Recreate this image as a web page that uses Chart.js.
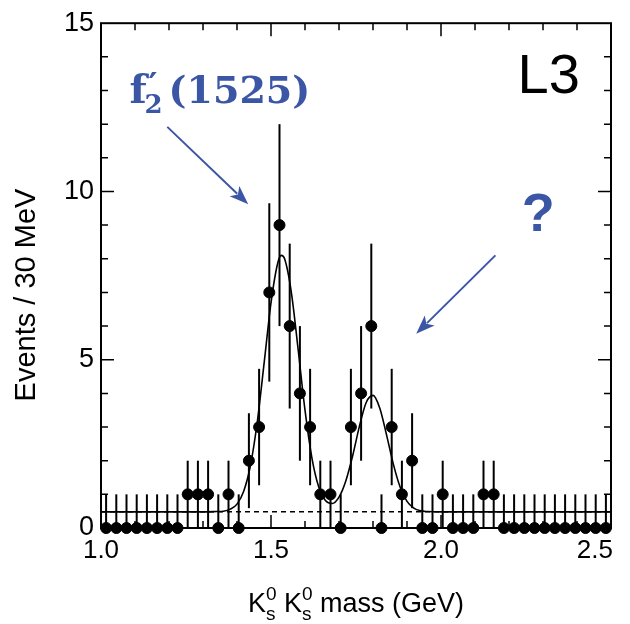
<!DOCTYPE html>
<html>
<head>
<meta charset="utf-8">
<script src="https://cdn.jsdelivr.net/npm/chart.js@4"></script>
<style>
  body { margin: 0; background: #fff; }
</style>
</head>
<body>
<canvas id="chart" width="630" height="624"></canvas>
<script>
//data: K0s K0s mass, 30 MeV bins
const binCenters = [1.015, 1.045, 1.075, 1.105, 1.135, 1.165, 1.195, 1.225, 1.255, 1.285,
  1.315, 1.345, 1.375, 1.405, 1.435, 1.465, 1.495, 1.525, 1.555, 1.585,
  1.615, 1.645, 1.675, 1.705, 1.735, 1.765, 1.795, 1.825, 1.855, 1.885,
  1.915, 1.945, 1.975, 2.005, 2.035, 2.065, 2.095, 2.125, 2.155, 2.185,
  2.215, 2.245, 2.275, 2.305, 2.335, 2.365, 2.395, 2.425, 2.455, 2.485];
const events = [0, 0, 0, 0, 0, 0, 0, 0, 1, 1,
  1, 0, 1, 0, 2, 3, 7, 9, 6, 4,
  3, 1, 1, 0, 3, 4, 6, 0, 3, 1,
  2, 0, 0, 1, 0, 0, 0, 1, 1, 0,
  0, 0, 0, 0, 0, 0, 0, 0, 0, 0];
//error bar ends
const errLow = [0, 0, 0, 0, 0, 0, 0, 0, 0, 0,
  0, 0, 0, 0, 0.59, 1.27, 4.35, 6, 3.55, 2,
  1.27, 0, 0, 0, 1.27, 2, 3.55, 0, 1.27, 0,
  0.59, 0, 0, 0, 0, 0, 0, 0, 0, 0,
  0, 0, 0, 0, 0, 0, 0, 0, 0, 0];
const errHigh = [1, 1, 1, 1, 1, 1, 1, 1, 2, 2,
  2, 1, 2, 1, 3.41, 4.73, 9.65, 12, 8.45, 6,
  4.73, 2, 2, 1, 4.73, 6, 8.45, 1, 4.73, 2,
  3.41, 1, 1, 2, 1, 1, 1, 2, 2, 1,
  1, 1, 1, 1, 1, 1, 1, 1, 1, 1];

//fit curve (two peaks on flat background)
const fitMass = [1.00, 1.30, 1.34, 1.36, 1.38, 1.40, 1.42, 1.44, 1.46, 1.48,
  1.50, 1.52, 1.53, 1.54, 1.56, 1.58, 1.60, 1.62, 1.64, 1.66,
  1.68, 1.70, 1.72, 1.74, 1.76, 1.78, 1.80, 1.82, 1.84, 1.86,
  1.88, 1.90, 1.92, 1.94, 1.96, 2.00, 2.50];
const fitValue = [0.48, 0.48, 0.49, 0.50, 0.56, 0.71, 1.10, 1.88, 3.18, 4.92,
  6.69, 7.88, 8.10, 8.00, 6.99, 5.29, 3.50, 2.10, 1.23, 0.82,
  0.73, 0.92, 1.40, 2.14, 3.02, 3.73, 3.94, 3.56, 2.76, 1.89,
  1.21, 0.79, 0.59, 0.51, 0.49, 0.48, 0.48];
//background level (dashed)
const bgMass = [1.0, 2.5];
const bgValue = [0.48, 0.48];

const xTicks = [1.0, 1.5, 2.0, 2.5];
const yTicks = [0, 5, 10, 15];

const blue = "#3c56a6";
const sans = "'Liberation Sans', Arial, Helvetica, sans-serif";

//draws error bars under the points
const errorBars = {
  id: "errorBars",
  beforeDatasetsDraw(chart) {
    const ctx = chart.ctx;
    const x = chart.scales.x;
    const y = chart.scales.y;
    ctx.save();
    ctx.strokeStyle = "#000";
    ctx.lineWidth = 2;
    binCenters.forEach((m, i) => {
      const px = x.getPixelForValue(m);
      ctx.beginPath();
      ctx.moveTo(px, y.getPixelForValue(errLow[i]));
      ctx.lineTo(px, y.getPixelForValue(errHigh[i]));
      ctx.stroke();
    });
    ctx.restore();
  },
};

function arrow(ctx, x1, y1, x2, y2) {
  const a = Math.atan2(y2 - y1, x2 - x1);
  const len = 19;
  const w = 7;
  ctx.beginPath();
  ctx.moveTo(x1, y1);
  ctx.lineTo(x2 - Math.cos(a) * len * 0.8, y2 - Math.sin(a) * len * 0.8);
  ctx.stroke();
  ctx.beginPath();
  ctx.moveTo(x2, y2);
  ctx.lineTo(x2 - Math.cos(a) * len + Math.sin(a) * w, y2 - Math.sin(a) * len - Math.cos(a) * w);
  ctx.lineTo(x2 - Math.cos(a) * len * 0.75, y2 - Math.sin(a) * len * 0.75);
  ctx.lineTo(x2 - Math.cos(a) * len - Math.sin(a) * w, y2 - Math.sin(a) * len + Math.cos(a) * w);
  ctx.closePath();
  ctx.fill();
}

//frame, inside ticks, labels and annotations
const frame = {
  id: "frame",
  afterDatasetsDraw(chart) {
    const ctx = chart.ctx;
    const a = chart.chartArea;
    const x = chart.scales.x;
    const y = chart.scales.y;
    ctx.save();
    ctx.strokeStyle = "#000";
    ctx.lineWidth = 2;
    ctx.strokeRect(a.left, a.top, a.right - a.left, a.bottom - a.top);
    ctx.lineWidth = 1.5;
    ctx.beginPath();
    for (let v = 1; v < 15; v++) {
      const py = y.getPixelForValue(v);
      const l = v % 5 === 0 ? 13 : 7;
      ctx.moveTo(a.left, py);
      ctx.lineTo(a.left + l, py);
      ctx.moveTo(a.right, py);
      ctx.lineTo(a.right - l, py);
    }
    for (let k = 1; k < 15; k++) {
      const px = x.getPixelForValue(1 + k / 10);
      const l = k % 5 === 0 ? 13 : 7;
      ctx.moveTo(px, a.bottom);
      ctx.lineTo(px, a.bottom - l);
      ctx.moveTo(px, a.top);
      ctx.lineTo(px, a.top + l);
    }
    ctx.stroke();
    ctx.restore();
  },
  afterDraw(chart) {
    const ctx = chart.ctx;
    const a = chart.chartArea;
    const x = chart.scales.x;
    const y = chart.scales.y;
    ctx.save();
    ctx.fillStyle = "#000";

    //x tick labels, last one kept inside the frame
    ctx.font = "26px " + sans;
    ctx.textBaseline = "alphabetic";
    xTicks.forEach((t) => {
      const label = t.toFixed(1);
      const w = ctx.measureText(label).width;
      let px = x.getPixelForValue(t) - w / 2;
      if (px + w > a.right + 2) px = a.right + 2 - w;
      ctx.fillText(label, px, a.bottom + 30);
    });

    //y title
    ctx.save();
    ctx.translate(35, 295);
    ctx.rotate(-Math.PI / 2);
    ctx.textAlign = "center";
    ctx.font = "29px " + sans;
    ctx.fillText("Events / 30 MeV", 0, 0);
    ctx.restore();

    //x title: K0s K0s mass (GeV)
    const big = "27px " + sans;
    const small = "19px " + sans;
    const parts = [
      ["K", big, 0], ["0", small, -12], ["s", small, 8, true], [" ", big, 0],
      ["K", big, 0], ["0", small, -12], ["s", small, 8, true], [" mass (GeV)", big, 0],
    ];
    let total = 0;
    let prevW = 0;
    parts.forEach((p) => {
      ctx.font = p[1];
      const w = ctx.measureText(p[0]).width;
      if (p[3]) total += Math.max(0, w - prevW);
      else total += w;
      prevW = w;
    });
    let cx = (a.left + a.right) / 2 - total / 2;
    const base = 612;
    prevW = 0;
    parts.forEach((p) => {
      ctx.font = p[1];
      const w = ctx.measureText(p[0]).width;
      if (p[3]) {
        ctx.fillText(p[0], cx - prevW, base + p[2]);
        cx += Math.max(0, w - prevW);
      } else {
        ctx.fillText(p[0], cx, base + p[2]);
        cx += w;
      }
      prevW = w;
    });

    //L3 tag
    ctx.font = "56px " + sans;
    ctx.fillText("L3", x.getPixelForValue(2.225), y.getPixelForValue(12.94));

    //annotations in blue
    ctx.fillStyle = blue;
    ctx.strokeStyle = blue;
    ctx.lineWidth = 2;
    const fx = x.getPixelForValue(1.084);
    const fy = y.getPixelForValue(12.62);
    const serif = "'DejaVu Serif', 'Liberation Serif', serif";
    ctx.font = "bold 40px " + serif;
    ctx.fillText("f", fx, fy);
    ctx.font = "bold 34px " + serif;
    ctx.fillText("\u2032", fx + 19, fy - 6);
    ctx.font = "bold 26px " + serif;
    ctx.fillText("2", fx + 15, fy + 10);
    ctx.font = "bold 38px " + serif;
    ctx.fillText("(1525)", fx + 39, fy);

    ctx.font = "bold 54px " + sans;
    ctx.textAlign = "center";
    ctx.fillText("?", x.getPixelForValue(2.286), y.getPixelForValue(8.83));

    arrow(ctx, x.getPixelForValue(1.195), y.getPixelForValue(11.92), x.getPixelForValue(1.433), y.getPixelForValue(9.62));
    arrow(ctx, x.getPixelForValue(2.16), y.getPixelForValue(8.10), x.getPixelForValue(1.927), y.getPixelForValue(5.77));
    ctx.restore();
  },
};

const ctx = document.getElementById("chart").getContext("2d");
const myChart = new Chart(ctx, {
  type: "scatter",
  data: {
    datasets: [
      {
        label: "background",
        type: "line",
        data: bgMass.map((m, i) => ({ x: m, y: bgValue[i] })),
        borderColor: "#000",
        borderWidth: 1.5,
        borderDash: [5, 4],
        pointRadius: 0,
        fill: false,
      },
      {
        label: "fit",
        type: "line",
        data: fitMass.map((m, i) => ({ x: m, y: fitValue[i] })),
        borderColor: "#000",
        borderWidth: 1.6,
        pointRadius: 0,
        cubicInterpolationMode: "monotone",
        fill: false,
      },
      {
        label: "events",
        data: binCenters.map((m, i) => ({ x: m, y: events[i] })),
        backgroundColor: "#000",
        borderColor: "#000",
        pointRadius: 5.5,
        pointHoverRadius: 5.5,
        clip: false,
      },
    ],
  },
  options: {
    responsive: false,
    animation: false,
    devicePixelRatio: 1,
    layout: { padding: { left: 0, top: 17, right: 19, bottom: 0 } },
    plugins: { legend: { display: false }, tooltip: { enabled: false } },
    scales: {
      x: {
        type: "linear",
        min: 1.0,
        max: 2.5,
        grid: { display: false, drawTicks: false },
        border: { display: false },
        ticks: { display: false, stepSize: 0.5 },
        afterFit: (s) => { s.height = 96; },
      },
      y: {
        min: 0,
        max: 15,
        grid: { display: false, drawTicks: false },
        border: { display: false },
        ticks: {
          stepSize: 5,
          padding: 7,
          color: "#000",
          font: { family: sans, size: 27 },
          callback: (v) => (yTicks.includes(v) ? v : ""),
        },
        afterFit: (s) => { s.width = 101; },
      },
    },
  },
  plugins: [errorBars, frame],
});
</script>
</body>
</html>
